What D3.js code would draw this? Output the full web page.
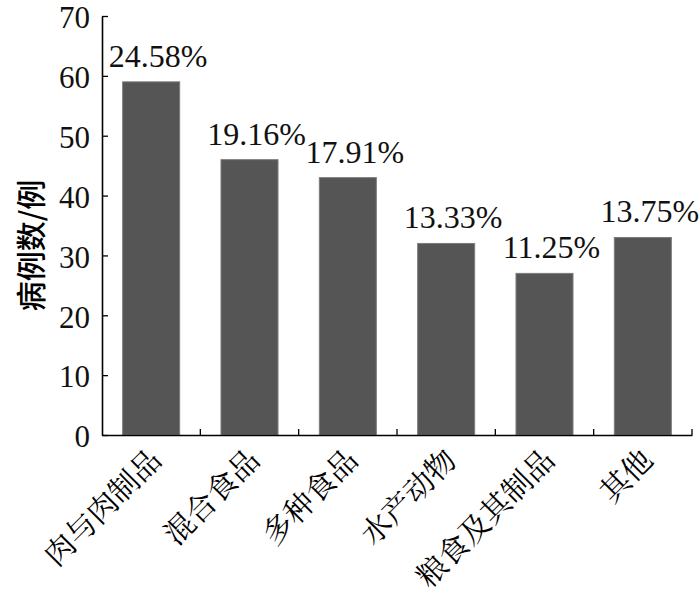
<!DOCTYPE html>
<html>
<head>
<meta charset="utf-8">
<script src="https://cdn.jsdelivr.net/npm/d3@7"></script>
<style>
  html, body { margin: 0; padding: 0; background: #fff; }
  svg { display: block; }
</style>
</head>
<body>
<svg id="chart"></svg>
<script>
const categories = ["肉与肉制品", "混合食品", "多种食品", "水产动物", "粮食及其制品", "其他"];
const cases = [59, 46, 43, 32, 27, 33];
const shares = ["24.58%", "19.16%", "17.91%", "13.33%", "11.25%", "13.75%"];
const yTicks = [0, 10, 20, 30, 40, 50, 60, 70];
const yTitle = "病例数/例";

(() => {
  const width = 700, height = 599;
  const margin = { top: 16, right: 8, bottom: 164, left: 102 };
  const innerW = 692 - margin.left;
  const innerH = height - margin.top - margin.bottom;

  const serif = "Liberation Serif, Times New Roman, serif";
  const cjkSerif = "Noto Serif CJK SC, Noto Sans CJK SC, serif";
  const cjkSans = "Noto Sans CJK SC, sans-serif";

  const svg = d3.select("#chart")
    .attr("width", width)
    .attr("height", height)
    .attr("viewBox", [0, 0, width, height]);

  const g = svg.append("g")
    .attr("transform", `translate(${margin.left},${margin.top})`);

  const x = d3.scaleBand().domain(categories).range([0, innerW]).paddingInner(0.42).paddingOuter(0.21);
  const y = d3.scaleLinear().domain([0, 70]).range([innerH, 0]);

  // bars
  g.append("g")
    .selectAll("rect")
    .data(categories)
    .join("rect")
    .attr("x", d => x(d))
    .attr("y", (d, i) => y(cases[i]))
    .attr("width", x.bandwidth())
    .attr("height", (d, i) => y(0) - y(cases[i]))
    .attr("fill", "#555555")
    .attr("stroke", "#7d7d7d")
    .attr("stroke-width", 1);

  // percentage labels
  g.append("g")
    .selectAll("text")
    .data(categories)
    .join("text")
    .attr("x", d => x(d) + x.bandwidth() / 2 + 7)
    .attr("y", (d, i) => y(cases[i]) - 15)
    .attr("text-anchor", "middle")
    .attr("font-family", serif)
    .attr("font-size", 32)
    .attr("fill", "#111")
    .text((d, i) => shares[i]);

  // y axis
  g.append("g")
    .call(d3.axisLeft(y).tickValues(yTicks).tickSizeInner(-6).tickSizeOuter(0).tickPadding(12))
    .attr("font-family", serif)
    .attr("font-size", 31)
    .call(a => a.select(".domain").attr("stroke", "#000").attr("stroke-width", 1.6))
    .call(a => a.selectAll(".tick line").attr("stroke", "#000").attr("stroke-width", 1.3))
    .call(a => a.selectAll(".tick text").attr("fill", "#111").attr("dy", "0.38em"));

  // x axis
  const xAxis = g.append("g")
    .attr("transform", `translate(0,${innerH})`)
    .call(d3.axisBottom(x).tickSize(0).tickPadding(0))
    .attr("font-family", cjkSerif)
    .attr("font-size", 30)
    .call(a => a.select(".domain").attr("stroke", "#000").attr("stroke-width", 1.6));

  xAxis.selectAll(".tick text")
    .attr("text-anchor", "end")
    .attr("dy", 0)
    .attr("transform", "translate(12,27) rotate(-45)")
    .attr("fill", "#000");

  // boundary ticks between categories (pointing up)
  const bounds = d3.range(1, categories.length + 1).map(i => i * x.step());
  xAxis.append("g")
    .selectAll("line")
    .data(bounds)
    .join("line")
    .attr("x1", d => d)
    .attr("x2", d => d)
    .attr("y1", 0)
    .attr("y2", -6)
    .attr("stroke", "#000")
    .attr("stroke-width", 1.3);

  // y title
  svg.append("text")
    .attr("transform", `translate(42,${margin.top + innerH / 2 + 20}) rotate(-90)`)
    .attr("text-anchor", "middle")
    .attr("font-family", cjkSans)
    .attr("font-weight", 500)
    .attr("font-size", 30)
    .attr("fill", "#000")
    .text(yTitle);
})();
</script>
</body>
</html>
